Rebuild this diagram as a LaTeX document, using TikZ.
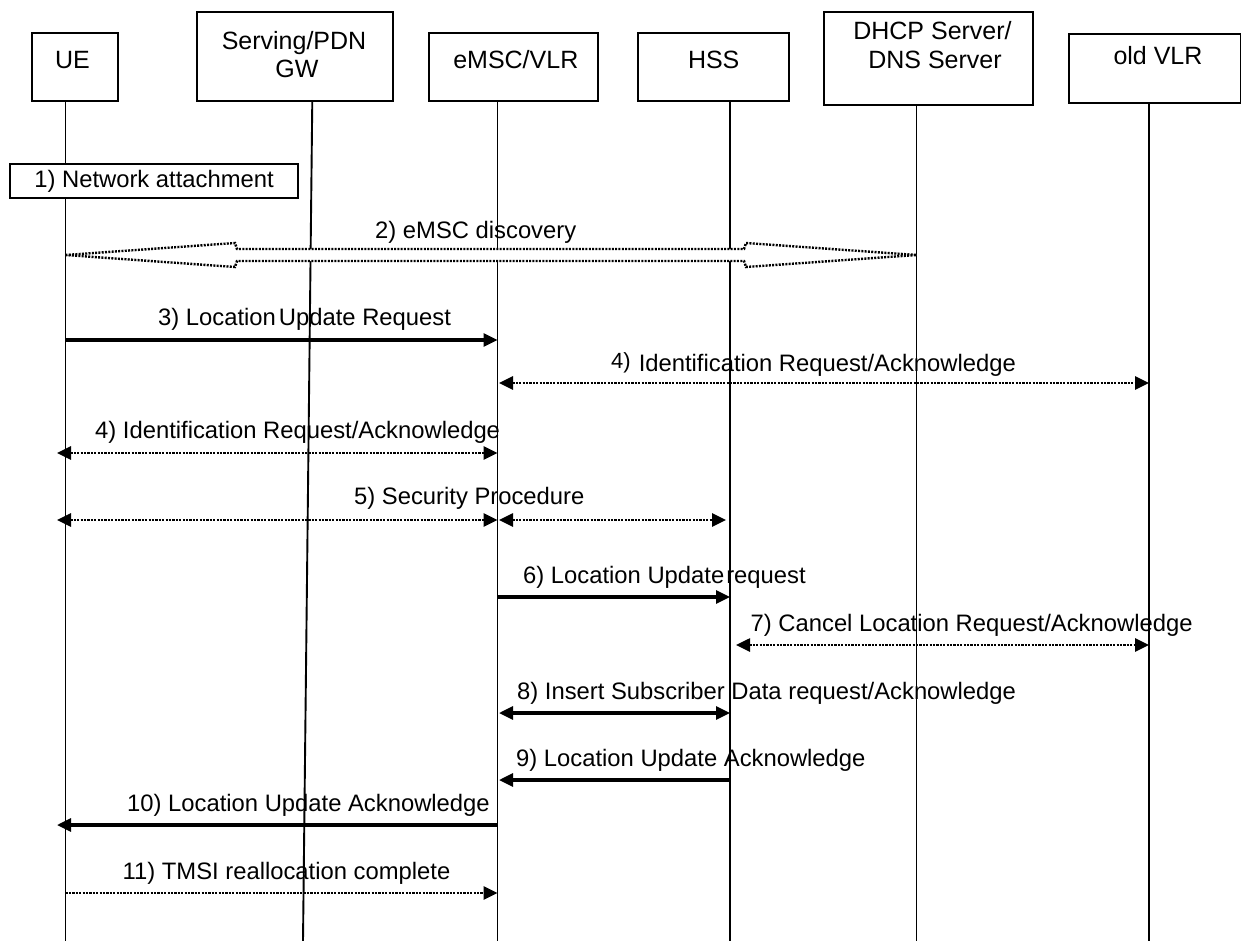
\documentclass[tikz,border=0pt]{standalone}
\usepackage{fontspec}
\setmainfont{Liberation Sans}
\usetikzlibrary{arrows.meta}

\begin{document}
\begin{tikzpicture}[x=1pt,y=-1pt,
  box/.style={draw, line width=2.1pt, fill=white, anchor=north west, inner sep=0pt},
  boxtext/.style={font=\fontsize{25}{29}\selectfont, anchor=base, inner sep=0pt},
  msgtext/.style={font=\fontsize{23.8}{28}\selectfont, anchor=base west, inner sep=0pt},
  life/.style={line width=1.9pt},
  solidmsg/.style={line width=3.1pt},
  dotmsg/.style={line width=2.6pt, dash pattern=on 2.2pt off 1.2pt},
  fwd/.style={-{Triangle[length=14pt,width=13pt]}},
  both/.style={{Triangle[length=14pt,width=13pt]}-{Triangle[length=14pt,width=13pt]}}
]
\fill[white] (0,0) rectangle (1241,941);
\useasboundingbox (0,0) rectangle (1241,941);

% lifeline end points
\coordinate (ueA) at (65.5,100);   \coordinate (ueZ) at (65.5,941);
\coordinate (gwA) at (312.3,100);  \coordinate (gwZ) at (303,941);
\coordinate (msA) at (497.5,100);  \coordinate (msZ) at (497.5,941);
\coordinate (hsA) at (730,100);    \coordinate (hsZ) at (730,941);
\coordinate (dhA) at (916.5,104);  \coordinate (dhZ) at (916.5,941);
\coordinate (ovA) at (1149,102);   \coordinate (ovZ) at (1149,941);
% arrow tips that stop just off a lifeline
\coordinate (ueTip) at (57,100);
\coordinate (msR) at (499,100);
\coordinate (hsL) at (726,100);
\coordinate (hsR) at (736,100);

% message rows
\coordinate (r2) at (0,255);
\coordinate (r3) at (0,340);
\coordinate (r4a) at (0,383);
\coordinate (r4b) at (0,453);
\coordinate (r5) at (0,520);
\coordinate (r6) at (0,597);
\coordinate (r7) at (0,645);
\coordinate (r8) at (0,713);
\coordinate (r9) at (0,780);
\coordinate (r10) at (0,825);
\coordinate (r11) at (0,893);

% lifelines
\draw[life] (ueA) -- (ueZ);
\draw[life] (gwA) -- (gwZ);
\draw[life] (msA) -- (msZ);
\draw[life] (hsA) -- (hsZ);
\draw[life] (dhA) -- (dhZ);
\draw[life] (ovA) -- (ovZ);

% participants
\node[box, minimum width=86pt, minimum height=68pt] (ue) at (31,32) {};
\node[boxtext] (ueT) at (72.5,68.5) {UE};
\node[box, minimum width=196pt, minimum height=89pt] (gw) at (196,11) {};
\node[boxtext] (gwT1) at (294,49.5) {Serving/PDN};
\node[boxtext] (gwT2) at (297,78) {GW};
\node[box, minimum width=169pt, minimum height=68pt] (ms) at (428,32) {};
\node[boxtext] (msT) at (515.8,68.3) {eMSC/VLR};
\node[box, minimum width=151pt, minimum height=68pt] (hs) at (637,32) {};
\node[boxtext] (hsT) at (713.7,68.3) {HSS};
\node[box, minimum width=209pt, minimum height=93pt] (dh) at (823,11) {};
\node[boxtext] (dhT1) at (932.5,40) {DHCP Server/};
\node[boxtext] (dhT2) at (935,68.3) {DNS Server};
\node[box, minimum width=172pt, minimum height=69pt] (ov) at (1068,33) {};
\node[boxtext] (ovT) at (1158,65) {old VLR};

% 1) attachment
\node[box, minimum width=288pt, minimum height=34pt, font=\fontsize{23.8}{28}\selectfont] (att) at (9,163) {1) Network attachment};

% 2) discovery: hollow double block arrow
\draw[line width=2.4pt, dash pattern=on 2pt off 1.3pt, fill=white]
  (ueA |- r2) -- (235,243) -- (237,249) -- (744,249) -- (746,243) -- (dhA |- r2)
  -- (746,267) -- (744,261) -- (237,261) -- (235,267) -- cycle;
\node[msgtext] (l2) at (375,239) {2) eMSC discovery};

% 3)
\node[msgtext] (l3) at (158,325) {3) Location\hspace{3pt}Update Request};
\draw[solidmsg, fwd] (ueA |- r3) -- (msA |- r3);

% 4) towards old VLR
\node[msgtext] (l4a) at (611,371) {\raisebox{3pt}{\fontsize{22}{26}\selectfont 4)}\hspace{8pt}Identification Request/Acknowledge};
\draw[dotmsg, both] (msR |- r4a) -- (ovA |- r4a);

% 4) towards UE
\node[msgtext] (l4b) at (95,438) {4) Identification Request/Acknowledge};
\draw[dotmsg, both] (ueTip |- r4b) -- (msA |- r4b);

% 5)
\node[msgtext] (l5) at (354,504) {5) Security Procedure};
\draw[dotmsg, both] (ueTip |- r5) -- (msA |- r5);
\draw[dotmsg, both] (msR |- r5) -- (hsL |- r5);

% 6)
\node[msgtext] (l6) at (523,583) {6) Location Update\hspace{2pt}request};
\draw[solidmsg, fwd] (msA |- r6) -- (hsA |- r6);

% 7)
\node[msgtext] (l7) at (750.5,631) {7) Cancel Location Request/Acknowledge};
\draw[dotmsg, both] (hsR |- r7) -- (ovA |- r7);

% 8)
\node[msgtext] (l8) at (517,699) {8) Insert Subscriber Data request/Acknowledge};
\draw[solidmsg, both] (msR |- r8) -- (hsA |- r8);

% 9)
\node[msgtext] (l9) at (516,766) {9) Location Update Acknowledge};
\draw[solidmsg, fwd] (hsA |- r9) -- (msR |- r9);

% 10)
\node[msgtext] (l10) at (127,811) {10) Location Update Acknowledge};
\draw[solidmsg, fwd] (msA |- r10) -- (ueTip |- r10);

% 11)
\node[msgtext] (l11) at (122.5,879) {11) TMSI reallocation complete};
\draw[dotmsg, fwd] (ueA |- r11) -- (msA |- r11);
\end{tikzpicture}
\end{document}
